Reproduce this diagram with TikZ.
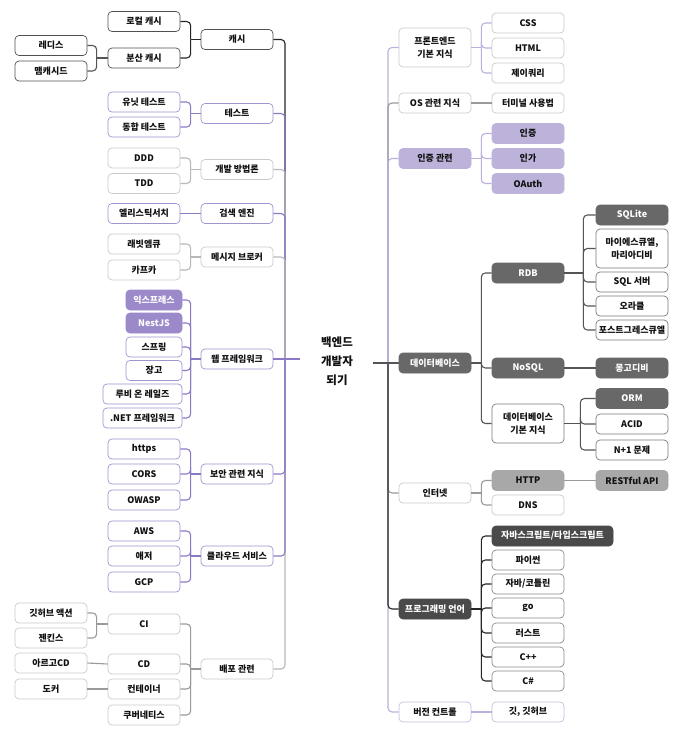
\documentclass[tikz,border=0pt]{standalone}
\usepackage{fontspec}
\setmainfont{Noto Sans CJK KR}
\usetikzlibrary{calc}
\definecolor{cblack}{HTML}{262626}
\definecolor{cpurple}{HTML}{8C79C6}
\definecolor{cgray}{HTML}{B8B8B8}
\definecolor{cgrayd}{HTML}{9A9A9A}
\definecolor{clav}{HTML}{BCB0DC}
\definecolor{cdark}{HTML}{555555}
\definecolor{bdark}{HTML}{505050}
\definecolor{bpurple}{HTML}{A293D2}
\definecolor{bgray}{HTML}{CACACA}
\definecolor{fpurple}{HTML}{9C89C9}
\definecolor{flav}{HTML}{BDB3DA}
\definecolor{fdb}{HTML}{686868}
\definecolor{bdb}{HTML}{7C7C7C}
\definecolor{fhttp}{HTML}{A8A8A8}
\definecolor{fprog}{HTML}{4A4A4A}
\definecolor{bprog}{HTML}{8A8A8A}
\definecolor{bvc}{HTML}{C5BCE3}
\definecolor{txt}{HTML}{111111}
\tikzset{
  bx/.style={draw, rounded corners=4pt, minimum width=72pt, minimum height=20pt,
    inner sep=1pt, text=txt, font=\bfseries\fontsize{9}{13.5}\selectfont, align=center, line width=0.7pt},
  two/.style={minimum height=39pt},
  kd/.style={bx, draw=bdark},
  kp/.style={bx, draw=bpurple},
  kg/.style={bx, draw=bgray},
  kfp/.style={bx, draw=fpurple, fill=fpurple, text=white},
  kl/.style={bx, draw=flav, fill=flav},
  kdb/.style={bx, draw=fdb, fill=fdb, text=white},
  kdw/.style={bx, draw=bdb},
  kh/.style={bx, draw=fhttp, fill=fhttp, text=txt},
  kpr/.style={bx, draw=fprog, fill=fprog, text=white},
  kpw/.style={bx, draw=bprog},
  kv/.style={bx, draw=bvc},
  cn/.style={line width=1.1pt, rounded corners=4pt},
  cb/.style={cn, draw=cblack},
  cp/.style={cn, draw=cpurple},
  cg/.style={cn, draw=cgray},
  cgd/.style={cn, draw=cgrayd},
  cl/.style={cn, draw=clav},
  cd/.style={cn, draw=cdark},
}
\begin{document}
\begin{tikzpicture}[x=1pt,y=-1pt]
\useasboundingbox[fill=white] (0,0) rectangle (682,734);

% ---------- root ----------
\node[font=\bfseries\fontsize{11.5}{19}\selectfont, align=center, text=txt] (root) at (337,361) {백엔드\\개발자\\되기};
\coordinate (rl) at (300,359);
\coordinate (rr) at (373,363);

% ---------- left column A ----------
\node[kd] (redis) at (51,45.5) {레디스};
\node[kd] (memc) at (51,71) {맴캐시드};
\node[kg] (gha) at (51,613) {깃허브 액션};
\node[kg] (jenkins) at (51,638) {젠킨스};
\node[kg] (argo) at (51,663) {아르고CD};
\node[kg] (docker) at (51,689) {도커};

% ---------- left column B ----------
\node[kd] (local) at (144,21.5) {로컬 캐시};
\node[kd] (dist) at (144,58) {분산 캐시};
\node[kp] (unit) at (144,102) {유닛 테스트};
\node[kp] (integ) at (144,127) {동합 테스트};
\node[kg] (ddd) at (144,158) {DDD};
\node[kg] (tdd) at (144,183.5) {TDD};
\node[kp] (elastic) at (144,213.5) {엘리스틱서치};
\node[kg] (rabbit) at (144,244) {래빗엠큐};
\node[kg] (kafka) at (144,270) {카프카};
\node[kfp, minimum width=56pt] (express) at (154,300) {익스프레스};
\node[kfp, minimum width=56pt] (nest) at (154,323) {NestJS};
\node[kp, minimum width=56pt] (spring) at (154,347) {스프링};
\node[kp, minimum width=56pt] (django) at (154,370.5) {장고};
\node[kp, minimum width=79pt] (rails) at (142.5,394) {루비 온 레일즈};
\node[kp, minimum width=79pt] (dotnet) at (142.5,418) {.NET 프레임워크};
\node[kp] (https) at (144,449) {https};
\node[kp] (cors) at (144,474) {CORS};
\node[kp] (owasp) at (144,500) {OWASP};
\node[kp] (aws) at (144,531) {AWS};
\node[kp] (azure) at (144,556) {애저};
\node[kp] (gcp) at (144,582) {GCP};
\node[kg] (ci) at (144,624) {CI};
\node[kg] (cdn) at (144,664) {CD};
\node[kg] (cont) at (144,689) {컨테이너};
\node[kg] (k8s) at (144,715) {쿠버네티스};

% ---------- left column C ----------
\node[kd] (cache) at (237,39.5) {캐시};
\node[kp] (test) at (237,113.5) {테스트};
\node[kg] (method) at (237,169.5) {개발 방법론};
\node[kp] (search) at (237,213.5) {검색 엔진};
\node[kg] (mq) at (237,257) {메시지 브로커};
\node[kp] (web) at (237,359) {웹 프레임워크};
\node[kp] (sec) at (237,474) {보안 관련 지식};
\node[kp] (cloud) at (237,556) {클라우드 서비스};
\node[kg] (deploy) at (237,669) {배포 관련};

% ---------- right column D ----------
\node[kg, two] (fe) at (435,47.5) {프론트엔드\\기본 지식};
\node[kg] (os) at (435,103) {OS 관련 지식};
\node[kl] (auth) at (435,158.5) {인증 관련};
\node[kdb] (db) at (435,363) {데이터베이스};
\node[kg] (net) at (435,493) {인터넷};
\node[kpr] (prog) at (435,609) {프로그래밍 언어};
\node[kv] (vc) at (435,712) {버전 컨트롤};

% ---------- right column E ----------
\node[kg] (css) at (528,23) {CSS};
\node[kg] (html) at (528,48) {HTML};
\node[kg] (jq) at (528,73) {제이쿼리};
\node[kg] (term) at (528,103) {터미널 사용법};
\node[kl] (authn) at (528,133.5) {인증};
\node[kl] (authz) at (528,158.5) {인가};
\node[kl] (oauth) at (528,183.5) {OAuth};
\node[kdb] (rdb) at (528,273) {RDB};
\node[kdb] (nosql) at (528,368) {NoSQL};
\node[kdw, two] (dbb) at (528,423.5) {데이터베이스\\기본 지식};
\node[kh] (http) at (528,480.5) {HTTP};
\node[kg] (dns) at (528,505) {DNS};
\node[kpr, minimum width=121pt] (js) at (552.5,536) {자바스크립트/타입스크립트};
\node[kpw] (py) at (528,560) {파이썬};
\node[kpw] (java) at (528,584) {자바/코틀린};
\node[kpw] (go) at (528,608) {go};
\node[kpw] (rust) at (528,633) {러스트};
\node[kpw] (cpp) at (528,657) {C++};
\node[kpw] (cs) at (528,681) {C\#};
\node[kv] (git) at (528,712) {깃, 깃허브};

% ---------- right column F ----------
\node[kdb] (sqlite) at (632,215) {SQLite};
\node[kdw, two] (mysql) at (632,248.5) {마이에스큐엘,\\마리아디비};
\node[kdw] (sqlsrv) at (632,282) {SQL 서버};
\node[kdw] (oracle) at (632,306) {오라클};
\node[kdw] (pg) at (632,330) {포스트그레스큐엘};
\node[kdb] (mongo) at (632,368) {몽고디비};
\node[kdb] (orm) at (632,398.5) {ORM};
\node[kdw] (acid) at (632,424) {ACID};
\node[kdw] (n1) at (632,450) {N+1 문제};
\node[kh] (rest) at (632,480.5) {RESTful API};

% ---------- left trunk ----------
\coordinate (lt) at (285,359);
\draw[cb] (lt) |- (cache.east);
\draw[cp] (lt) |- (test.east);
\draw[cg] (lt) |- (method.east);
\draw[cp] (lt) |- (search.east);
\draw[cg] (lt) |- (mq.east);
\draw[cg] (lt) |- (deploy.east);
\draw[cp] (lt) |- (cloud.east);
\draw[cp] (lt) |- (sec.east);
\draw[cp] (web.east) -- (rl);

% ---------- right trunk ----------
\coordinate (rt) at (388,363);
\draw[cl] (rt) |- (fe.west);
\draw[cgd] (rt) |- (os.west);
\draw[cl] (rt) |- (auth.west);
\draw[cgd] (rt) |- (net.west);
\draw[cl] (rt) |- (vc.west);
\draw[cb] (rt) |- (prog.west);
\draw[cd] (rr) -- (db.west);

% ---------- left branches ----------
\draw[cb] (cache.west) -- ++(-10,0) coordinate (j1);
\draw[cb] (j1) |- (local.east);
\draw[cb] (j1) |- (dist.east);
\draw[cd] (dist.west) -- ++(-11,0) coordinate (j2);
\draw[cd] (j2) |- (redis.east);
\draw[cd] (j2) |- (memc.east);

\draw[cp] (test.west) -- ++(-10,0) coordinate (j3);
\draw[cp] (j3) |- (unit.east);
\draw[cp] (j3) |- (integ.east);

\draw[cg] (method.west) -- ++(-10,0) coordinate (j4);
\draw[cg] (j4) |- (ddd.east);
\draw[cg] (j4) |- (tdd.east);

\draw[cp] (search.west) -- (elastic.east);

\draw[cg] (mq.west) -- ++(-10,0) coordinate (j5);
\draw[cg] (j5) |- (rabbit.east);
\draw[cg] (j5) |- (kafka.east);

\draw[cp] (web.west) -- ++(-10,0) coordinate (j6);
\foreach \n in {express,nest,spring,django,rails,dotnet}
  \draw[cp] (j6) |- (\n.east);

\draw[cp] (sec.west) -- ++(-10,0) coordinate (j7);
\foreach \n in {https,cors,owasp}
  \draw[cp] (j7) |- (\n.east);

\draw[cp] (cloud.west) -- ++(-10,0) coordinate (j8);
\foreach \n in {aws,azure,gcp}
  \draw[cp] (j8) |- (\n.east);

\draw[cgd] (deploy.west) -- ++(-10,0) coordinate (j9);
\foreach \n in {ci,cdn,cont,k8s}
  \draw[cgd] (j9) |- (\n.east);
\draw[cgd] (ci.west) -- ++(-11,0) coordinate (j10);
\draw[cgd] (j10) |- (gha.east);
\draw[cgd] (j10) |- (jenkins.east);
\draw[cgd] (cdn.west) -- (argo.east);
\draw[cgd] (cont.west) -- (docker.east);

% ---------- right branches ----------
\draw[cl] (fe.east) -- ++(10,0) coordinate (k1);
\foreach \n in {css,html,jq}
  \draw[cl] (k1) |- (\n.west);
\draw[cgd] (os.east) -- (term.west);
\draw[cl] (auth.east) -- ++(10,0) coordinate (k2);
\foreach \n in {authn,authz,oauth}
  \draw[cl] (k2) |- (\n.west);

\draw[cd] (db.east) -- ++(10,0) coordinate (k3);
\foreach \n in {rdb,nosql,dbb}
  \draw[cd] (k3) |- (\n.west);
\draw[cd] (rdb.east) -- ++(19,0) coordinate (k4);
\foreach \n in {sqlite,mysql,sqlsrv,oracle,pg}
  \draw[cd] (k4) |- (\n.west);
\draw[cd] (nosql.east) -- (mongo.west);
\draw[cd] (dbb.east) -- ++(16,0) coordinate (k5);
\foreach \n in {orm,acid,n1}
  \draw[cd] (k5) |- (\n.west);

\draw[cgd] (net.east) -- ++(10,0) coordinate (k6);
\draw[cgd] (k6) |- (http.west);
\draw[cgd] (k6) |- (dns.west);
\draw[cgd] (http.east) -- (rest.west);

\draw[cb] (prog.east) -- ++(10,0) coordinate (k7);
\foreach \n in {js,py,java,go,rust,cpp,cs}
  \draw[cb] (k7) |- (\n.west);

\draw[cl] (vc.east) -- (git.west);
\end{tikzpicture}
\end{document}
